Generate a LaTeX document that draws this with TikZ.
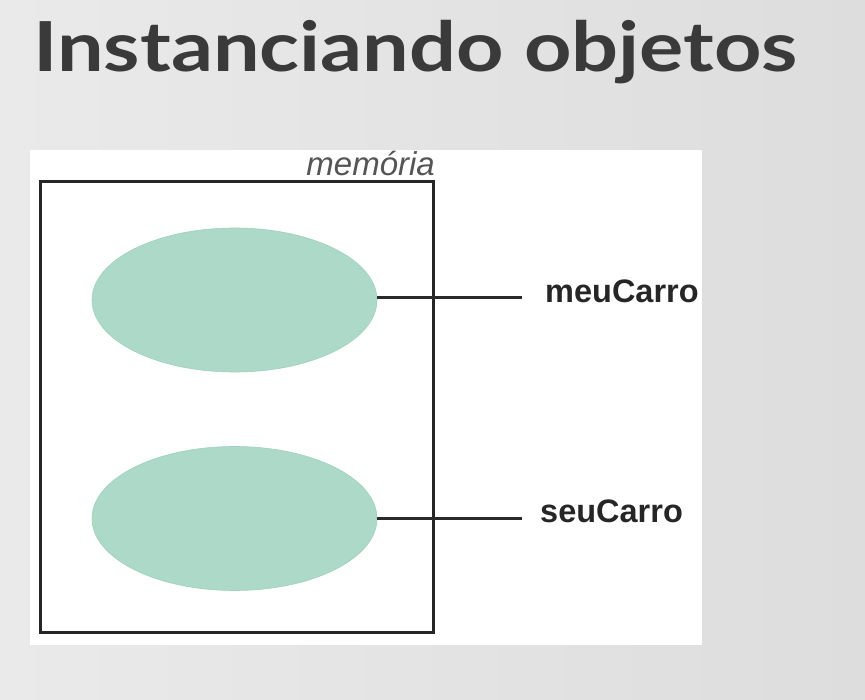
\documentclass[tikz,border=0pt]{standalone}
\usepackage{fontspec}
\setmainfont{Liberation Sans}
\newfontfamily\titlefont{Lato}
\definecolor{bgA}{HTML}{EAEAEA}
\definecolor{bgB}{HTML}{DDDDDD}
\definecolor{titlegray}{HTML}{3A3A3A}
\definecolor{ovalfill}{HTML}{ACD9C8}
\definecolor{ovaledge}{HTML}{A0D0BE}
\definecolor{linegray}{HTML}{2A2A2A}
\definecolor{memgray}{HTML}{555555}
\tikzset{
  objoval/.style={ellipse, fill=ovalfill, draw=ovaledge, line width=0.6pt, minimum width=285pt, minimum height=144pt, inner sep=0pt},
  refline/.style={draw=linegray, line width=3pt},
  varlabel/.style={anchor=base west, font=\bfseries\fontsize{32.5}{36}\selectfont, text=black!85, inner sep=0pt},
}
\usetikzlibrary{shapes.geometric}
\begin{document}
\begin{tikzpicture}[x=1pt,y=-1pt]
\useasboundingbox (0,0) rectangle (865,700);
\shade[left color=bgA, right color=bgB] (0,0) rectangle (865,700);
\node[anchor=base west, inner sep=0pt, text=titlegray, font=\titlefont\bfseries\fontsize{69}{72}\selectfont] (title) at (33,72) {\scalebox{1.2}[1]{Instanciando objetos}};
\fill[white] (30,150) rectangle (702,645);
\node[draw=black!85, line width=3pt, minimum width=393pt, minimum height=450pt, inner sep=0pt] (mem) at (236.5,407) {};
\node[anchor=base east, inner sep=0pt, text=memgray, font=\itshape\fontsize{33}{36}\selectfont] (memlbl) at (435,176) {memória};
\node[objoval] (o1) at (234.5,300) {};
\node[objoval] (o2) at (234.5,518.5) {};
\coordinate (e1) at (522,298);
\coordinate (e2) at (522,518);
\draw[refline] (o1.east |- e1) -- (e1);
\draw[refline] (o2.east |- e2) -- (e2);
\node[varlabel] (v1) at (545,303) {meuCarro};
\node[varlabel] (v2) at (540,522) {seuCarro};
\end{tikzpicture}
\end{document}
